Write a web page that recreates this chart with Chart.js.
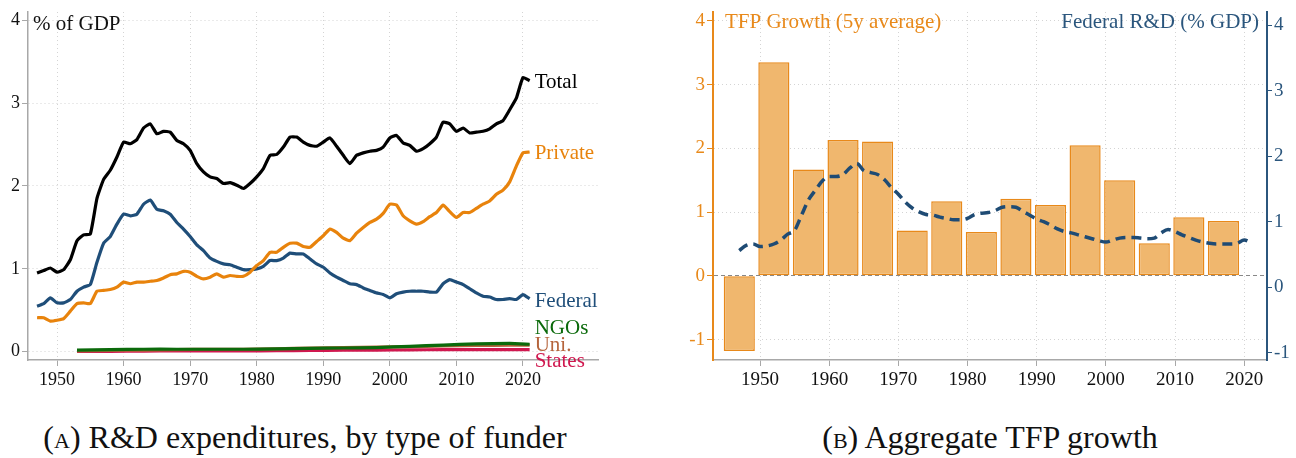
<!DOCTYPE html>
<html>
<head>
<meta charset="utf-8">
<script src="https://cdn.jsdelivr.net/npm/chart.js@4.4.1/dist/chart.umd.min.js"></script>
<style>
  body { margin: 0; background: #fff; width: 1296px; height: 458px; overflow: hidden; position: relative; font-family: "Liberation Serif", serif; }
  canvas { position: absolute; top: 0; }
  #chartA { left: 0; }
  #chartB { left: 648px; }
  .caption { position: absolute; top: 418px; font-size: 32px; line-height: 38px; color: #111; text-align: center; white-space: nowrap; }
  .sc { font-variant: small-caps; }
</style>
</head>
<body>
<canvas id="chartA" width="620" height="400"></canvas>
<canvas id="chartB" width="648" height="400"></canvas>
<div class="caption" style="left:0;width:610px">(<span class="sc">a</span>) R&amp;D expenditures, by type of funder</div>
<div class="caption" style="left:648px;width:684px">(<span class="sc">b</span>) Aggregate TFP growth</div>
<script>
// data, % of GDP
var years = [];
for (var yr = 1947; yr <= 2021; yr++) years.push(yr);

var total = [
  0.95, 0.98, 1.01, 0.96, 0.99, 1.11, 1.34, 1.41, 1.42, 1.85,
  2.08, 2.19, 2.35, 2.53, 2.51, 2.56, 2.70, 2.75, 2.63, 2.66,
  2.65, 2.55, 2.51, 2.43, 2.27, 2.17, 2.11, 2.09, 2.03, 2.04,
  2.01, 1.97, 2.03, 2.11, 2.21, 2.37, 2.38, 2.47, 2.59, 2.59,
  2.53, 2.49, 2.48, 2.53, 2.58, 2.48, 2.37, 2.27, 2.37, 2.40,
  2.42, 2.43, 2.47, 2.58, 2.61, 2.52, 2.49, 2.42, 2.45, 2.51,
  2.59, 2.77, 2.75, 2.66, 2.70, 2.64, 2.65, 2.66, 2.69, 2.75,
  2.79, 2.92, 3.06, 3.31, 3.27
];
var privateFunds = [
  0.41, 0.41, 0.37, 0.38, 0.40, 0.49, 0.58, 0.59, 0.58, 0.73,
  0.74, 0.75, 0.78, 0.84, 0.82, 0.84, 0.84, 0.85, 0.86, 0.89,
  0.93, 0.94, 0.97, 0.96, 0.91, 0.88, 0.90, 0.94, 0.90, 0.92,
  0.91, 0.91, 0.96, 1.04, 1.10, 1.20, 1.20, 1.26, 1.31, 1.31,
  1.27, 1.26, 1.33, 1.40, 1.48, 1.44, 1.37, 1.34, 1.43, 1.50,
  1.56, 1.60, 1.67, 1.78, 1.77, 1.64, 1.58, 1.54, 1.57, 1.63,
  1.68, 1.77, 1.69, 1.62, 1.68, 1.68, 1.73, 1.78, 1.82, 1.90,
  1.95, 2.05, 2.24, 2.40, 2.41
];
var federal = [
  0.55, 0.58, 0.65, 0.59, 0.59, 0.63, 0.73, 0.78, 0.81, 1.08,
  1.31, 1.39, 1.54, 1.66, 1.64, 1.66, 1.78, 1.83, 1.72, 1.70,
  1.66, 1.56, 1.48, 1.39, 1.29, 1.22, 1.13, 1.09, 1.06, 1.05,
  1.02, 0.99, 0.99, 1.00, 1.03, 1.10, 1.10, 1.13, 1.19, 1.18,
  1.18, 1.12, 1.06, 1.02, 0.95, 0.90, 0.86, 0.82, 0.81, 0.77,
  0.74, 0.71, 0.69, 0.65, 0.70, 0.72, 0.73, 0.73, 0.73, 0.72,
  0.72, 0.82, 0.87, 0.84, 0.81, 0.76, 0.71, 0.67, 0.66, 0.63,
  0.63, 0.64, 0.63, 0.69, 0.64
];

var smallYears = [1953, 1958, 1963, 1968, 1973, 1978, 1983, 1988, 1993, 1998, 2003, 2008, 2013, 2018, 2021];
var ngos   = [0.020, 0.025, 0.030, 0.030, 0.030, 0.030, 0.035, 0.040, 0.045, 0.050, 0.065, 0.080, 0.095, 0.100, 0.090];
var uni    = [0.010, 0.015, 0.020, 0.025, 0.030, 0.030, 0.035, 0.045, 0.050, 0.055, 0.060, 0.070, 0.075, 0.080, 0.080];
var states = [0.005, 0.005, 0.008, 0.010, 0.010, 0.010, 0.012, 0.015, 0.018, 0.020, 0.022, 0.025, 0.025, 0.026, 0.025];

// panel B
var tfpYears  = [1947, 1952, 1957, 1962, 1967, 1972, 1977, 1982, 1987, 1992, 1997, 2002, 2007, 2012, 2017];
var tfpGrowth = [-1.18, 3.35, 1.67, 2.13, 2.11, 0.71, 1.17, 0.69, 1.21, 1.11, 2.05, 1.50, 0.51, 0.92, 0.86];
var fedSmooth = [
  0.56, 0.64, 0.66, 0.62, 0.63, 0.66, 0.72, 0.81, 0.87, 1.10,
  1.33, 1.48, 1.62, 1.69, 1.69, 1.72, 1.82, 1.89, 1.78, 1.75,
  1.72, 1.64, 1.52, 1.42, 1.30, 1.21, 1.15, 1.11, 1.10, 1.07,
  1.05, 1.03, 1.03, 1.05, 1.11, 1.13, 1.14, 1.17, 1.22, 1.23,
  1.22, 1.16, 1.10, 1.04, 1.00, 0.95, 0.89, 0.85, 0.83, 0.80,
  0.77, 0.74, 0.71, 0.69, 0.72, 0.75, 0.76, 0.76, 0.75, 0.74,
  0.75, 0.83, 0.88, 0.85, 0.80, 0.76, 0.72, 0.69, 0.67, 0.66,
  0.66, 0.66, 0.67, 0.72, 0.68
];

var decadeTicks = [1950, 1960, 1970, 1980, 1990, 2000, 2010, 2020];
var gdpTicks = [0, 1, 2, 3, 4];
var tfpTicks = [-1, 0, 1, 2, 3, 4];

var ORANGE = '#E8891A';
var BLUE = '#1F4B74';
var AXIS_GRAY = '#a8a8a8';
var GRID = '#d4d4d4';
var FONT = '"Liberation Serif", serif';

Chart.defaults.font.family = FONT;
Chart.defaults.color = '#111';

function pts(xs, ys) {
  return xs.map(function(x, i) { return { x: x, y: ys[i] }; });
}
function setTicks(list) {
  return function(scale) { scale.ticks = list.map(function(v) { return { value: v }; }); };
}
function fixWidth(w) {
  return function(scale) { scale.width = w; scale.paddingTop = 0; scale.paddingBottom = 0; };
}
function fixHeight(h) {
  return function(scale) { scale.height = h; scale.paddingLeft = 0; scale.paddingRight = 0; };
}

// end-of-line labels + unit title for panel A
var endLabels = {
  id: 'endLabels',
  afterDatasetsDraw: function(chart) {
    var ctx = chart.ctx, x = chart.scales.x, y = chart.scales.y;
    ctx.save();
    ctx.font = '21px ' + FONT;
    ctx.textBaseline = 'middle';
    ctx.textAlign = 'left';
    chart.data.datasets.forEach(function(ds) {
      var last = ds.data[ds.data.length - 1];
      ctx.fillStyle = ds.labelColor || ds.borderColor;
      ctx.fillText(ds.label, x.getPixelForValue(last.x) + 5, y.getPixelForValue(ds.labelAt));
    });
    ctx.textBaseline = 'alphabetic';
    ctx.fillStyle = '#111';
    ctx.fillText('% of GDP', chart.chartArea.left + 5, 30);
    ctx.restore();
  }
};

new Chart(document.getElementById('chartA'), {
  type: 'line',
  data: {
    datasets: [
      { label: 'Total', data: pts(years, total), borderColor: '#000', labelAt: 3.25 },
      { label: 'Private', data: pts(years, privateFunds), borderColor: '#E8830C', labelAt: 2.39 },
      { label: 'Federal', data: pts(years, federal), borderColor: '#1F4E79', labelAt: 0.61 },
      { label: 'NGOs', data: pts(smallYears, ngos), borderColor: '#0B6A0B', labelAt: 0.28 },
      { label: 'Uni.', data: pts(smallYears, uni), borderColor: '#B5643C', labelAt: 0.08 },
      { label: 'States', data: pts(smallYears, states), borderColor: '#D0184F', labelAt: -0.12 }
    ]
  },
  options: {
    responsive: false,
    animation: false,
    events: [],
    layout: { padding: { left: 0, top: 12, right: 22, bottom: 0 } },
    elements: {
      point: { radius: 0 },
      line: { borderWidth: 3.2, tension: 0.15 }
    },
    plugins: { legend: { display: false }, tooltip: { enabled: false } },
    scales: {
      x: {
        type: 'linear',
        min: 1945.64,
        max: 2031.27,
        afterBuildTicks: setTicks(decadeTicks),
        afterFit: fixHeight(40),
        grid: { color: GRID, tickColor: AXIS_GRAY, tickLength: 6, tickBorderDash: [] },
        border: { color: AXIS_GRAY, width: 1.5, dash: [1, 3] },
        ticks: { font: { size: 18 }, padding: 3, maxRotation: 0, callback: function(v) { return String(v); } }
      },
      y: {
        min: -0.1,
        max: 4.1,
        afterBuildTicks: setTicks(gdpTicks),
        afterFit: fixWidth(28),
        grid: { color: GRID, tickColor: AXIS_GRAY, tickLength: 6, tickBorderDash: [] },
        border: { color: AXIS_GRAY, width: 1.5, dash: [1, 3] },
        ticks: { font: { size: 18 }, padding: 2 }
      }
    }
  },
  plugins: [endLabels]
});

// titles for panel B
var panelTitles = {
  id: 'panelTitles',
  afterDraw: function(chart) {
    var ctx = chart.ctx, area = chart.chartArea;
    ctx.save();
    ctx.font = '21px ' + FONT;
    ctx.textBaseline = 'alphabetic';
    ctx.fillStyle = ORANGE;
    ctx.textAlign = 'left';
    ctx.fillText('TFP Growth (5y average)', area.left + 12, 28);
    ctx.fillStyle = '#2B567D';
    ctx.textAlign = 'right';
    ctx.fillText('Federal R&D (% GDP)', area.right - 8, 28);
    ctx.restore();
  }
};

new Chart(document.getElementById('chartB'), {
  type: 'line',
  data: {
    datasets: [
      {
        type: 'line',
        label: 'Federal R&D (% GDP)',
        data: pts(years, fedSmooth),
        yAxisID: 'y2',
        borderColor: BLUE,
        borderWidth: 3.5,
        borderDash: [10, 6],
        cubicInterpolationMode: 'monotone',
        pointRadius: 0,
        order: 0
      },
      {
        type: 'bar',
        label: 'TFP Growth (5y average)',
        data: pts(tfpYears, tfpGrowth),
        yAxisID: 'y',
        backgroundColor: '#F0B76E',
        borderColor: ORANGE,
        borderWidth: 1.5,
        borderSkipped: false,
        barPercentage: 0.9,
        categoryPercentage: 1.0,
        order: 1
      }
    ]
  },
  options: {
    responsive: false,
    animation: false,
    events: [],
    layout: { padding: { left: 0, top: 12, right: 0, bottom: 0 } },
    plugins: { legend: { display: false }, tooltip: { enabled: false } },
    scales: {
      x: {
        type: 'linear',
        offset: false,
        min: 1943.2,
        max: 2023.3,
        afterBuildTicks: setTicks(decadeTicks),
        afterFit: fixHeight(40),
        grid: { offset: false, color: GRID, tickColor: AXIS_GRAY, tickLength: 6, tickBorderDash: [] },
        border: { color: AXIS_GRAY, width: 1.5, dash: [1, 3] },
        ticks: { font: { size: 19 }, padding: 3, maxRotation: 0, callback: function(v) { return String(v); } }
      },
      y: {
        position: 'left',
        min: -1.32,
        max: 4.14,
        afterBuildTicks: setTicks(tfpTicks),
        afterFit: fixWidth(65),
        grid: {
          color: function(c) { return c.tick && c.tick.value === 0 ? '#888' : GRID; },
          tickColor: ORANGE,
          tickLength: 6,
          tickBorderDash: []
        },
        border: {
          color: ORANGE,
          width: 2,
          dash: function(c) { return c.tick && c.tick.value === 0 ? [4, 3] : [1, 3]; }
        },
        ticks: { font: { size: 19 }, color: ORANGE, padding: 2 }
      },
      y2: {
        position: 'right',
        min: -1.11,
        max: 4.2,
        afterBuildTicks: setTicks(tfpTicks),
        afterFit: fixWidth(29),
        grid: { drawOnChartArea: false, tickColor: '#2B567D', tickLength: 5, tickBorderDash: [] },
        border: { color: '#2B567D', width: 2 },
        ticks: { font: { size: 19 }, color: '#2B567D', padding: 2 }
      }
    }
  },
  plugins: [panelTitles]
});
</script>
</body>
</html>
